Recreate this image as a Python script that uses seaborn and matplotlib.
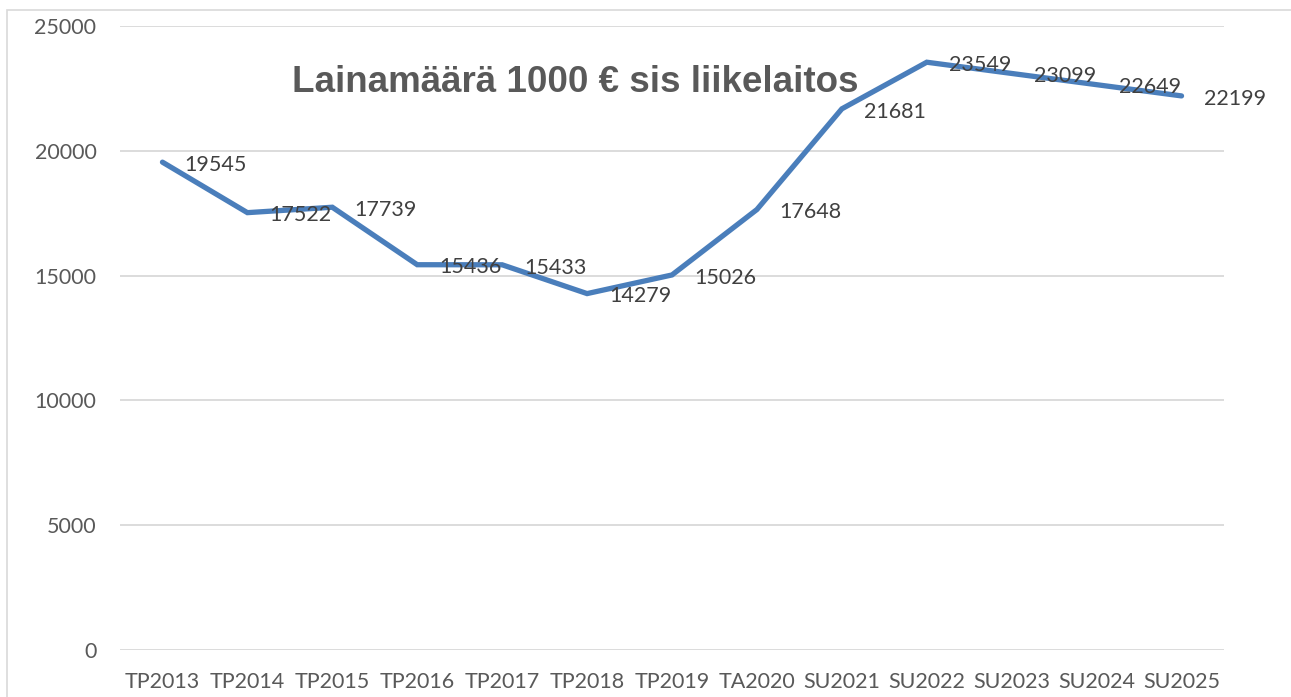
import matplotlib
matplotlib.use("Agg")
import matplotlib.pyplot as plt
import seaborn as sns
import pandas as pd
from matplotlib.patches import Rectangle

categories = ["TP2013", "TP2014", "TP2015", "TP2016", "TP2017", "TP2018", "TP2019",
              "TA2020", "SU2021", "SU2022", "SU2023", "SU2024", "SU2025"]
values = [19545, 17522, 17739, 15436, 15433, 14279, 15026,
          17648, 21681, 23549, 23099, 22649, 22199]
yticks = [0, 5000, 10000, 15000, 20000, 25000]
title = "Lainamäärä 1000 € sis liikelaitos"

sns.set_theme(style="white")
plt.rcParams['font.family'] = ['Lato', 'DejaVu Sans']

df = pd.DataFrame({"cat": categories, "val": values})
df["pos"] = range(len(categories))

W, H = 1291, 697
fig = plt.figure(figsize=(W / 100, H / 100), dpi=100)
ax = fig.add_axes([120 / W, 1 - 650 / H, (1224 - 120) / W, (650 - 26) / H])

fig.patches.append(Rectangle((7 / W, -0.1), 1.2, 1 - 10 / H + 0.1, transform=fig.transFigure,
                             fill=False, edgecolor="#D9D9D9", linewidth=1.2))

sns.lineplot(data=df, x="pos", y="val", ax=ax, color="#4A7EBB", linewidth=3.8,
             sort=False, solid_capstyle="round", solid_joinstyle="miter")

ax.set_xlim(-0.5, len(categories) - 0.5)
ax.set_ylim(0, 25000)
ax.set_yticks(yticks)
ax.set_yticklabels([str(t) for t in yticks])
ax.set_xticks(range(len(categories)))
ax.set_xticklabels(categories)
ax.yaxis.grid(True, color="#D9D9D9", linewidth=1.3)
ax.set_axisbelow(True)
for s in ax.spines.values():
    s.set_visible(False)
ax.tick_params(axis="both", length=0, labelsize=15.5, labelcolor="#595959")
ax.tick_params(axis="y", pad=17)
ax.tick_params(axis="x", pad=16)
ax.set_xlabel("")
ax.set_ylabel("")

for p, v in zip(df["pos"], df["val"]):
    ax.annotate(str(v), (p, v), xytext=(16, -2), textcoords="offset points",
                ha="left", va="center", fontsize=15.5, color="#404040")

ax.text(0.412, 0.91, title, transform=ax.transAxes, ha="center", va="center",
        fontsize=26.5, fontweight="bold", color="#595959",
        family=["Liberation Sans", "DejaVu Sans"])

fig.savefig("out.png", dpi=100)
